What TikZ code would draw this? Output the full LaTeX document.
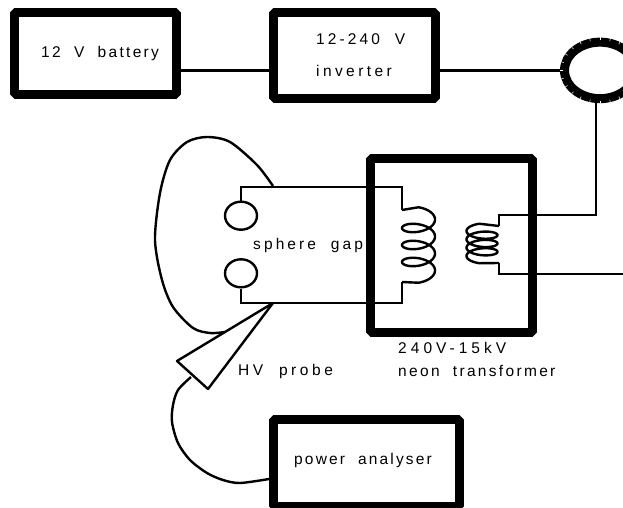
\documentclass[tikz,border=0pt]{standalone}
\usepackage{fontspec}
\setmainfont{Liberation Sans}[LetterSpace=13,WordSpace=2]
\usetikzlibrary{shapes.geometric}
\tikzset{
  unitbox/.style = {draw, line width = 9pt, line join = bevel, inner sep = 0pt},
  sphere/.style = {draw, ellipse, line width = 2.4pt, inner sep = 0pt, minimum width = 32pt, minimum height = 28pt},
  wire/.style = {line width = 2.2pt},
  lead/.style = {line width = 2.4pt, line join = round},
  caption/.style = {anchor = base west, inner sep = 0pt, font = \fontsize{15.5}{15.5}\selectfont},
  wide/.style = {caption, font = \fontsize{15.5}{15.5}\selectfont\addfontfeature{LetterSpace=#1}}
}
\begin{document}
\begin{tikzpicture}[x = 1pt, y = -1pt]
        \useasboundingbox (0,0) rectangle (623,508);

        % draws the boxes
        \node[unitbox, minimum width = 162pt, minimum height = 82pt] (battery) at (95.5,53.5) {};
        \node[unitbox, minimum width = 162pt, minimum height = 86pt] (inverter) at (354.5,55.5) {};
        \node[unitbox, minimum width = 161.5pt, minimum height = 173.5pt] (transformer) at (451.25,245.25) {};
        \node[unitbox, minimum width = 186pt, minimum height = 86.5pt] (analyser) at (366.5,462.75) {};

        % draws the toroid
        \node[draw, ellipse, line width = 9pt, inner sep = 0pt, minimum width = 71pt, minimum height = 56.5pt] (toroid) at (600,70.4) {};
        \foreach \a in {0,15,...,345}
          \draw[white, line width = .5pt]
            ([shift = {(\a:37.5 and 30.2)}]toroid.center) -- ([shift = {(\a:40 and 33)}]toroid.center);

        % draws the spheres
        \node[sphere] (upper) at (241,215.7) {};
        \node[sphere] (lower) at (241,273.3) {};

        \coordinate (batout) at (176.5,70.5);
        \coordinate (invin) at (273.5,70.5);
        \coordinate (invout) at (435.5,70.5);
        \coordinate (pritop) at (402,187.3);
        \coordinate (pribot) at (402,303);
        \coordinate (sectop) at (499,215);
        \coordinate (secbot) at (499,274.3);
        \coordinate (feed) at (623,274.3);
        \coordinate (tip) at (273,303);
        \coordinate (left) at (177,361);
        \coordinate (right) at (208,389);

        % draws the wires
        \draw[wire] (batout) -- (invin);
        \draw[wire] (invout) -- (toroid.west |- invout);
        \draw[wire] (596,99) |- (sectop) -- (499,226);
        \draw[wire] (499,263) -- (secbot) -- (feed);
        \draw[wire] (upper.north) |- (pritop) -- (402,210);
        \draw[wire] (lower.south) |- (pribot) -- (402,282);

        % draws the coils
        \draw[lead] (402,210) -- plot[smooth, samples = 200, domain = 90:1350]
          ({418.5-16.5*cos(\x)}, {228+(\x-360)*0.0472-8*sin(\x)}) -- (402,282);
        \draw[lead] (499,226) -- plot[smooth, samples = 200, domain = 100:1340]
          ({482+15.5*cos(\x)}, {231+(\x-180)*0.0231-5.5*sin(\x)}) -- (499,263);

        % draws the probe
        \draw[lead] (tip) -- (left) -- (right) -- cycle;
        \draw[lead] plot[smooth] coordinates {(273,186) (257,165) (230,142) (207,137) (187,142)
          (170,160) (160,193) (155,240) (162,280) (173,307) (193,328) (210,333) (225,332)};
        \draw[lead] plot[smooth] coordinates {(191,377) (178,390) (173,405) (172,422) (178,443)
          (190,460) (207,473) (223,480) (240,483) (269,479)};

        % draws the labels
        \node[wide = 15] (batterytext) at (41,58) {12 V battery};
        \node[wide = 20] (invertertop) at (316,45) {12-240 V};
        \node[wide = 22] (inverterbot) at (316,77) {inverter};
        \node[wide = 20] (gaptext) at (253,249) {sphere gap};
        \node[wide = 23] (probetext) at (238,375) {HV probe};
        \node[wide = 26] (ratingtext) at (398,353) {240V-15kV};
        \node[wide = 15] (neontext) at (398,376) {neon transformer};
        \node[wide = 14] (analysertext) at (294,464) {power analyser};
\end{tikzpicture}
\end{document}
